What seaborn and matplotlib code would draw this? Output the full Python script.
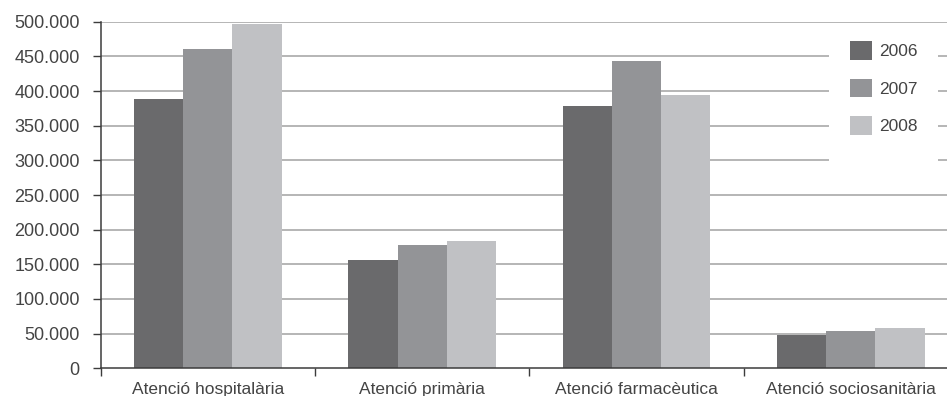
import matplotlib
matplotlib.use("Agg")
import matplotlib.pyplot as plt
from matplotlib.patches import Rectangle
from matplotlib.ticker import FuncFormatter, FixedLocator
import pandas as pd
import seaborn as sns

categories = ["Atenció hospitalària", "Atenció primària",
              "Atenció farmacèutica", "Atenció sociosanitària"]
years = ["2006", "2007", "2008"]
values_2006 = [388500, 156200, 378400, 48500]
values_2007 = [460600, 177900, 443300, 53800]
values_2008 = [496700, 183600, 394300, 58100]
y_ticks = [0, 50000, 100000, 150000, 200000, 250000, 300000, 350000, 400000, 450000, 500000]

colors = ["#6a6a6c", "#939497", "#c0c1c4"]
text_color = "#444444"
grid_color = "#a9a9a9"
axis_color = "#3c3c3c"
fs = 12.5
fs_y = 13

rows = []
for year, vals in zip(years, [values_2006, values_2007, values_2008]):
    for cat, v in zip(categories, vals):
        rows.append({"categoria": cat, "any": year, "valor": v})
df = pd.DataFrame(rows)

sns.set_theme(style="white")
plt.rcParams["font.family"] = ["Liberation Sans", "DejaVu Sans"]

W, H = 947, 396
fig = plt.figure(figsize=(W / 100, H / 100), dpi=100)
x0, x1 = 100.7, 957.9
y_zero, y_top = 368.3, 21.7
ax = fig.add_axes([x0 / W, (H - y_zero) / H, (x1 - x0) / W, (y_zero - y_top) / H])

sns.barplot(data=df, x="categoria", y="valor", hue="any", order=categories,
            hue_order=years, palette=colors, saturation=1, width=0.69,
            linewidth=0, ax=ax, legend=True, zorder=3)

handles, labels = ax.get_legend_handles_labels()
ax.get_legend().remove()

ax.set_xlim(-0.5, 3.5)
ax.set_ylim(0, 500000)
ax.set_xlabel("")
ax.set_ylabel("")

# horizontal gridlines
for t in y_ticks[1:]:
    ax.axhline(t, color=grid_color, lw=1.2, zorder=1)

for s in ["top", "right"]:
    ax.spines[s].set_visible(False)
for s in ["left", "bottom"]:
    ax.spines[s].set_color(axis_color)
    ax.spines[s].set_linewidth(1.1)
    ax.spines[s].set_zorder(4)

ax.yaxis.set_major_locator(FixedLocator(y_ticks))
ax.yaxis.set_major_formatter(FuncFormatter(lambda v, p: f"{int(v):,}".replace(",", ".")))
ax.tick_params(axis="y", which="major", direction="out", length=5.5, width=1,
               color=axis_color, labelsize=fs_y, labelcolor=text_color, pad=9.5, left=True)

ax.set_xticks(range(len(categories)))
ax.set_xticklabels(categories)
ax.set_xticks([-0.5, 0.5, 1.5, 2.5, 3.5], minor=True)
ax.tick_params(axis="x", which="major", length=0, labelsize=fs, labelcolor=text_color, pad=10)
ax.tick_params(axis="x", which="minor", direction="out", length=6, width=1,
               color=axis_color, bottom=True)

# white legend panel over the gridlines
fig.add_artist(Rectangle((829 / W, (H - 161) / H), (938 - 829) / W, (161 - 27) / H,
                         transform=fig.transFigure, facecolor="white",
                         edgecolor="none", zorder=2))
em = fs * 100 / 72
fig.legend(handles, labels, loc="upper left",
           bbox_to_anchor=(850 / W, (H - 41) / H), bbox_transform=fig.transFigure,
           frameon=False, borderpad=0, borderaxespad=0,
           handlelength=22 / em, handleheight=22 / em, handletextpad=7 / em,
           labelspacing=19 / em, fontsize=fs, labelcolor=text_color)

fig.savefig("out.png", dpi=100)
